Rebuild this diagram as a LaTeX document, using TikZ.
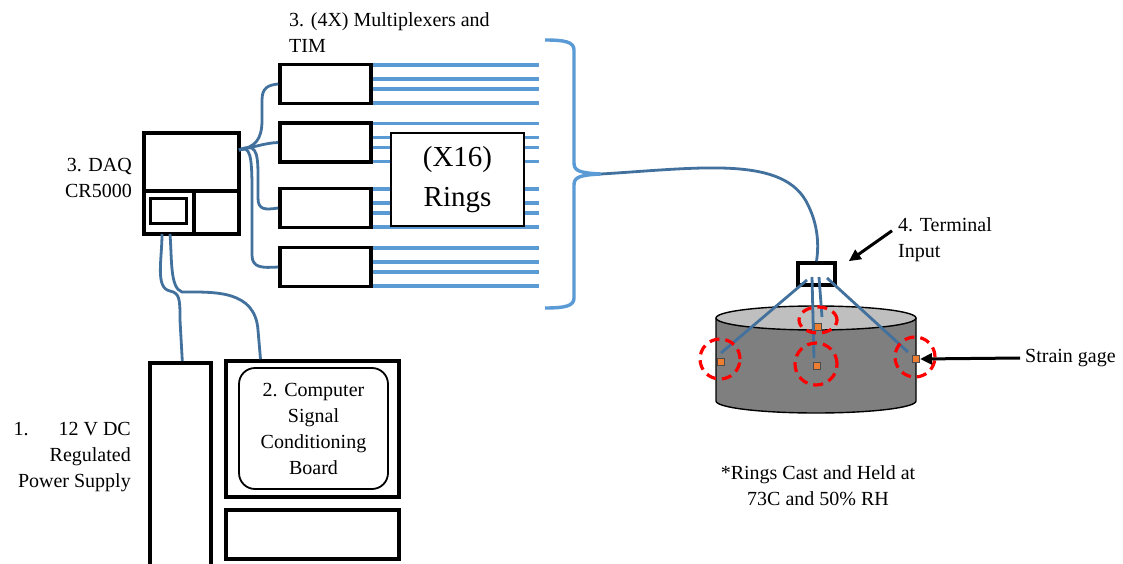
\documentclass[tikz,border=0pt]{standalone}
\usepackage{fontspec}
\setmainfont{Liberation Serif}
\usetikzlibrary{arrows, arrows.meta}
\usetikzlibrary{positioning}
\usetikzlibrary{calc}
\definecolor{wireblue}{HTML}{5B9BD5}
\definecolor{cableblue}{HTML}{41719C}
\definecolor{gageorange}{HTML}{ED7D31}
\definecolor{tankgray}{HTML}{7F7F7F}
\definecolor{lidgray}{HTML}{BFBFBF}

\begin{document}
\begin{tikzpicture}[x=1pt, y=-1pt,
	box/.style={draw, line width=3.6pt, fill=white, inner sep=0pt},
	wire/.style={wireblue, line width=3.2pt},
	cable/.style={cableblue, line width=2.8pt},
	gage/.style={draw=black!70, fill=gageorange, line width=1pt, minimum size=7pt, inner sep=0pt},
	spot/.style={red, line width=3.2pt, dash pattern=on 10pt off 6pt},
	pointer/.style={line width=3pt, -{Triangle[length=12pt,width=11pt]}},
	lbl/.style={font=\fontsize{20}{26}\selectfont, inner sep=0pt}]
	% page
	\clip (0,0) rectangle (1123,564);
	\fill[white] (0,0) rectangle (1123,564);
	
	% power supply, board and keyboard
	\node[box, minimum width=61pt, minimum height=215pt, anchor=north west] (psu) at (148,361) {};
	\node[lbl, align=right, anchor=east] (psulbl) at (131,457) {1.\hspace{30pt}12 V DC\\Regulated\\Power Supply};
	\node[box, minimum width=173pt, minimum height=136pt] (pc) at (312.5,429) {};
	\node[draw, line width=1.8pt, rounded corners=16pt, minimum width=149pt, minimum height=121pt, align=center, lbl] (board) at (313.5,428.5) {2. Computer\\Signal\\Conditioning\\Board};
	\node[box, minimum width=173pt, minimum height=49pt] (keys) at (312.5,534.5) {};
	
	% data logger
	\node[box, minimum width=95pt, minimum height=101pt] (daq) at (191.5,183.5) {};
	\draw[line width=3.6pt] (daq.west |- 0,191) -- (daq.east |- 0,191);
	\draw[line width=3.6pt] (194,191) -- (194,191 |- daq.south);
	\draw[line width=3pt] (150,198) rectangle (186,223);
	\node[lbl, align=right, anchor=east] (daqlbl) at (132,178) {3. DAQ\\CR5000};
	
	% multiplexers
	\foreach \i/\y in {1/84, 2/142.5, 3/208, 4/267}
		\node[box, minimum width=91pt, minimum height=39pt] (mux\i) at (325.5,\y) {};
	\node[lbl, align=left, anchor=west] (muxlbl) at (289,33) {3. (4X) Multiplexers and\\TIM};
	
	% ring leads
	\foreach \i in {1,...,4}
		\foreach \d in {-19,-5,5,19}
			\draw[wire] ([yshift=\d pt]mux\i.east) -- ++(166,0);
	\node[draw, line width=1.8pt, fill=white, minimum width=133pt, minimum height=93pt, align=center, font=\fontsize{29}{40}\selectfont] (rings) at (457.5,179.5) {(X16)\\Rings};
	
	% brace
	\coordinate (tip) at (601,174);
	\draw[wire, line width=3.4pt] (545,40) .. controls (565,40) and (574,42) .. (574,50) -- (574,163) .. controls (574,171) and (580,173) .. (tip) .. controls (580,175) and (574,177) .. (574,185) -- (574,298) .. controls (574,306) and (565,308) .. (545,308);
	
	% cables from the logger
	\coordinate (hub) at (239,150);
	\draw[cable] (hub) .. controls (255,147) and (262,140) .. (262,120) -- (262,100) .. controls (262,88) and (268,85) .. (mux1.west);
	\draw[cable] (hub) .. controls (255,147) and (265,143) .. (mux2.west);
	\draw[cable] (hub) .. controls (255,143) and (258,150) .. (258,175) -- (258,198) .. controls (258,210) and (265,210) .. (mux3.west);
	\draw[cable] (hub) .. controls (250,145) and (252,155) .. (252,190) -- (252,255) .. controls (252,268) and (262,268) .. (mux4.west);
	\coordinate (port1) at (162,234);
	\coordinate (port2) at (170,234);
	\draw[cable] (port1) .. controls (162,260) and (155,288) .. (170,291) .. controls (180,293) and (180,300) .. (180,320) -- ([xshift=2pt]psu.north);
	\draw[cable] (port2) .. controls (172,260) and (170,288) .. (182,292) .. controls (215,292) and (255,290) .. (258,330) -- ([xshift=-52pt]pc.north);
	
	% ring specimen
	\draw[fill=tankgray, line width=1.4pt] (716,318) -- (716,401) arc[start angle=180, end angle=360, x radius=100pt, y radius=12pt] -- (916,318);
	\draw[fill=lidgray, line width=1.4pt] (816,318) ellipse[x radius=100pt, y radius=12pt];
	\node[box, minimum width=37pt, minimum height=22pt] (term) at (816.5,274) {};
	\draw[cable] (tip) .. controls (700,168) and (785,155) .. (808,205) .. controls (818,225) and (819,245) .. (term.north);
	
	% gages
	\node[gage] (g1) at (721,362) {};
	\node[gage] (g2) at (817,366) {};
	\node[gage] (g3) at (818,327) {};
	\node[gage] (g4) at (916,359) {};
	\draw[cable] ([xshift=-9.5pt,yshift=-6pt]term.center) -- ([yshift=9pt]g1.center);
	\draw[cable] ([xshift=-4.5pt,yshift=-3pt]term.center) -- ([xshift=-3pt,yshift=8pt]g2.center);
	\draw[cable] ([xshift=2.5pt,yshift=-3pt]term.center) -- ([xshift=4pt,yshift=10pt]g3.center);
	\draw[cable] ([xshift=10.5pt,yshift=-4pt]term.center) -- ([xshift=-8pt,yshift=7pt]g4.center);
	\draw[spot] (720,359) circle[radius=20pt];
	\draw[spot] (816,364) circle[radius=21pt];
	\draw[spot] (818,320) ellipse[x radius=19pt, y radius=13pt];
	\draw[spot] (915,357) circle[radius=20pt];
	
	% labels
	\node[lbl, align=left, anchor=west] (termlbl) at (898,240) {4. Terminal\\Input};
	\draw[pointer] ([xshift=-6pt,yshift=-13pt]termlbl.north west) -- ([xshift=12pt]term.north east);
	\node[lbl, anchor=west] (gagelbl) at (1025,358) {Strain gage};
	\draw[pointer] ([xshift=-5pt]gagelbl.west) -- (g4.east);
	\node[lbl, align=center] (note) at (818,486) {*Rings Cast and Held at\\73C and 50\% RH};
\end{tikzpicture}
\end{document}
